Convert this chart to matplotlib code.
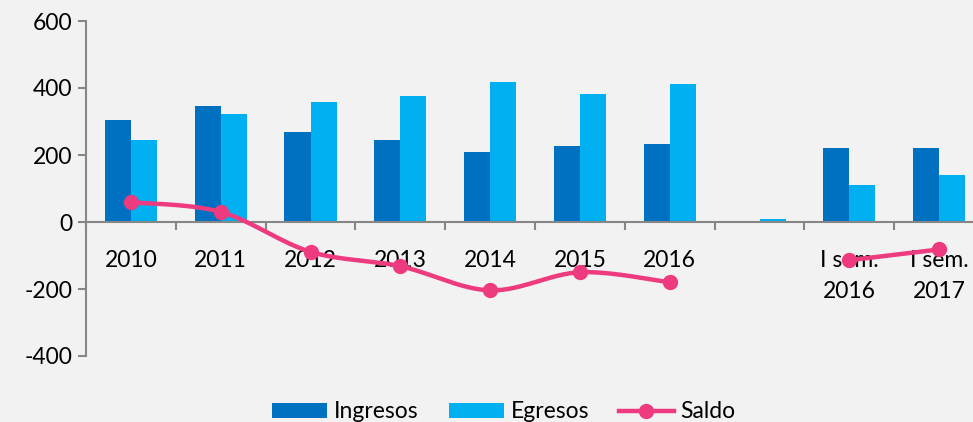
import matplotlib.pyplot as plt
import numpy as np

# data
categorias = ['2010', '2011', '2012', '2013', '2014', '2015', '2016', '', 'I sem.\n2016', 'I sem.\n2017']
ingresos = [305, 347, 269, 245, 210, 228, 234, 2, 222, 222]
egresos = [246, 323, 359, 377, 419, 383, 413, 8, 110, 140]
saldo = [59, 30, -89, -132, -204, -150, -180, None, -114, -82]

c_ing = '#0070C0'
c_egr = '#00B0F0'
c_sal = '#EE3A7E'
gris = '#868686'
fondo = '#F2F2F2'

plt.rcParams['font.family'] = ['Lato', 'DejaVu Sans']
plt.rcParams['axes.unicode_minus'] = False


def suave(xs, ys, n=30):
    # Excel-like smoothed line (Catmull-Rom as cubic Bezier)
    xs = np.asarray(xs, float)
    ys = np.asarray(ys, float)
    px, py = [], []
    for i in range(len(xs) - 1):
        x0, y0 = (xs[i - 1], ys[i - 1]) if i > 0 else (xs[i], ys[i])
        x3, y3 = (xs[i + 2], ys[i + 2]) if i + 2 < len(xs) else (xs[i + 1], ys[i + 1])
        x1, y1 = xs[i], ys[i]
        x2, y2 = xs[i + 1], ys[i + 1]
        c1x, c1y = x1 + (x2 - x0) / 6, y1 + (y2 - y0) / 6
        c2x, c2y = x2 - (x3 - x1) / 6, y2 - (y3 - y1) / 6
        t = np.linspace(0, 1, n)
        px.extend((1-t)**3*x1 + 3*(1-t)**2*t*c1x + 3*(1-t)*t**2*c2x + t**3*x2)
        py.extend((1-t)**3*y1 + 3*(1-t)**2*t*c1y + 3*(1-t)*t**2*c2y + t**3*y2)
    return px, py


fig = plt.figure(figsize=(9.73, 4.22), dpi=100, facecolor=fondo)
ax = fig.add_axes([86/973, 1-356/422, (984-86)/973, (356-21)/422])
ax.set_facecolor(fondo)

x = np.arange(len(categorias))
w = 0.29
b1 = ax.bar(x - w/2, ingresos, w, color=c_ing, label='Ingresos', zorder=2)
b2 = ax.bar(x + w/2, egresos, w, color=c_egr, label='Egresos', zorder=2)

# saldo line, broken at the empty category
tramos = [[0, 1, 2, 3, 4, 5, 6], [8, 9]]
for idx in tramos:
    sx, sy = suave([x[i] for i in idx], [saldo[i] for i in idx])
    ax.plot(sx, sy, color=c_sal, lw=3.2, zorder=4, solid_capstyle='round')
    ax.plot([x[i] for i in idx], [saldo[i] for i in idx], 'o', color=c_sal,
            ms=10, zorder=5)
l1, = ax.plot([], [], '-o', color=c_sal, lw=3.2, ms=10, label='Saldo')

ax.set_xlim(-0.5, len(categorias) - 0.5)
ax.set_ylim(-400, 600)
ax.set_yticks([-400, -200, 0, 200, 400, 600])

for s in ['top', 'right']:
    ax.spines[s].set_visible(False)
ax.spines['left'].set_color(gris)
ax.spines['left'].set_linewidth(1.5)
ax.spines['bottom'].set_position(('data', 0))
ax.spines['bottom'].set_color(gris)
ax.spines['bottom'].set_linewidth(1.5)
ax.spines['bottom'].set_zorder(3)

ax.set_xticks(np.arange(len(categorias) + 1) - 0.5)
ax.set_xticklabels([])
ax.set_xticks(x, minor=True)
ax.set_xticklabels(categorias, minor=True, fontsize=16.5, linespacing=1.6)
ax.tick_params(axis='x', which='major', direction='out', length=6, width=1.5, color=gris)
ax.tick_params(axis='x', which='minor', length=0, pad=20)
ax.tick_params(axis='y', direction='out', length=6, width=1.5, color=gris,
               labelsize=16.5, pad=4)

fig.legend([b1, b2, l1], ['Ingresos', 'Egresos', 'Saldo'],
           loc='lower center', bbox_to_anchor=(0.518, -0.05), ncol=3, frameon=False,
           fontsize=16.5, handlelength=2.4, handleheight=0.6, handletextpad=0.3,
           columnspacing=1.3)

fig.savefig('out.png', dpi=100, facecolor=fondo)
